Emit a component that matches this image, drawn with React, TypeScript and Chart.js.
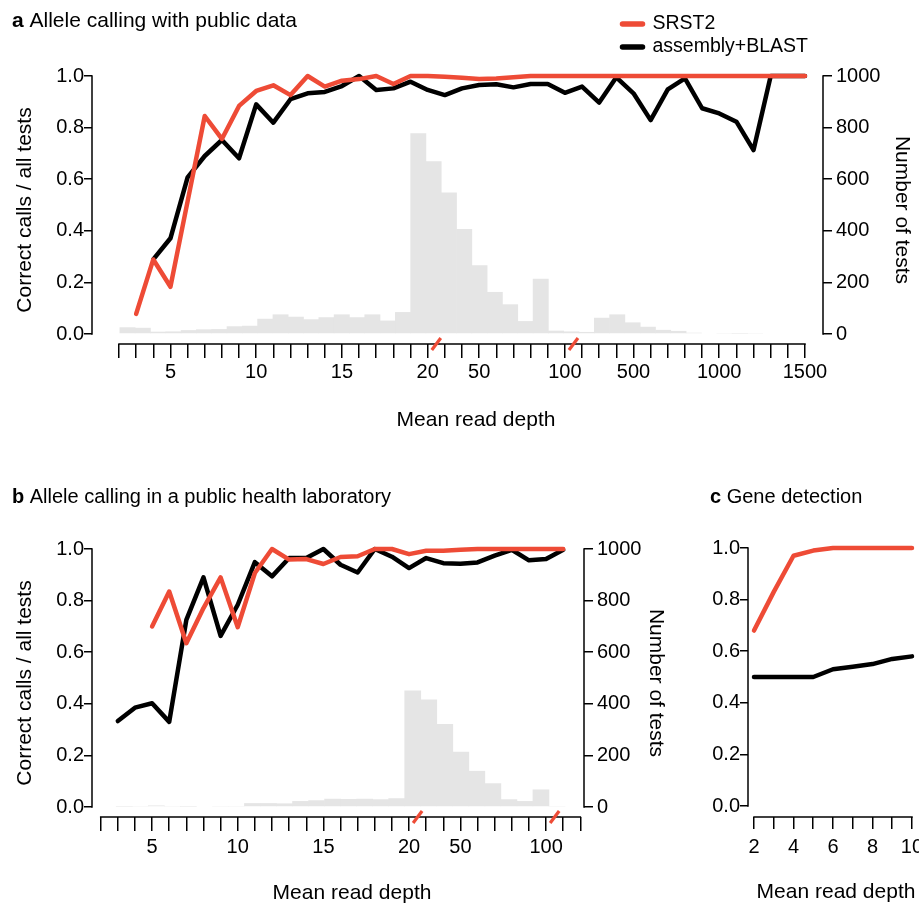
import React, { useEffect, useRef } from "react";
import { Chart, registerables } from "chart.js";

Chart.register(...registerables);

const FONT = "'Liberation Sans', Arial, Helvetica, sans-serif";
const RED = "#EE4B36";
const BLACK = "#000000";
const GREY = "#E5E5E5";

// ---------------- Panel a: Allele calling with public data ----------------
const depthA = [2, 3, 4, 5, 6, 7, 8, 9, 10, 11, 12, 13, 14, 15, 16, 17, 18, 19, 20, 30, 40, 50, 60, 70, 80, 90, 100, 200, 300, 400, 500, 600, 700, 800, 900, 1000, 1100, 1200, 1300, 1400, 1500];
const labelledA = [5, 10, 15, 20, 50, 100, 500, 1000, 1500];
const srst2A = [null, 0.078, 0.289, 0.183, 0.514, 0.845, 0.756, 0.884, 0.942, 0.964, 0.926, 1.0, 0.959, 0.982, 0.988, 1.0, 0.969, 1.0, 1.0, 0.997, 0.993, 0.988, 0.99, 0.995, 1, 1, 1, 1, 1, 1, 1, 1, 1, 1, 1, 1, 1, 1, 1, 1, 1];
const blastA = [null, null, 0.289, 0.371, 0.607, 0.69, 0.752, 0.681, 0.89, 0.819, 0.91, 0.933, 0.938, 0.961, 1.0, 0.946, 0.952, 0.978, 0.946, 0.926, 0.952, 0.965, 0.968, 0.956, 0.969, 0.969, 0.935, 0.959, 0.897, 0.995, 0.933, 0.829, 0.948, 0.991, 0.875, 0.855, 0.823, 0.713, 1.0, 1.0, 1.0];
const testsA = [26, 24, 9, 10, 15, 18, 19, 30, 32, 59, 76, 67, 57, 65, 76, 65, 76, 52, 85, 778, 670, 548, 407, 266, 163, 115, 50, 214, 13, 10, 8, 63, 76, 45, 28, 16, 12, 5, 3, 2, 1, 2, 0, 0];
const breaksA = [18.5, 26.5];

// ---------------- Panel b: Allele calling in a public health laboratory ----------------
const depthB = [2, 3, 4, 5, 6, 7, 8, 9, 10, 11, 12, 13, 14, 15, 16, 17, 18, 19, 20, 30, 40, 50, 60, 70, 80, 90, 100, 200, 300];
const labelledB = [5, 10, 15, 20, 50, 100];
const srst2B = [null, null, null, 0.7, 0.835, 0.635, 0.771, 0.89, 0.697, 0.907, 1.0, 0.959, 0.961, 0.942, 0.969, 0.972, 1.0, 1.0, 0.98, 0.993, 0.993, 0.997, 1.0, 1.0, 1.0, 1.0, 1.0, 1.0, null];
const blastB = [null, 0.333, 0.385, 0.402, 0.33, 0.725, 0.89, 0.663, 0.784, 0.949, 0.894, 0.965, 0.965, 1.0, 0.939, 0.909, 1.0, 0.97, 0.926, 0.965, 0.945, 0.943, 0.948, 0.974, 0.997, 0.956, 0.961, 0.997, null];
const testsB = [3, 1, 2, 6, 2, 1, 3, 2, 2, 15, 15, 14, 23, 26, 32, 31, 32, 30, 34, 452, 417, 322, 214, 140, 92, 30, 23, 68, 2, 0];
const breaksB = [18.5, 26.5];

// ---------------- Panel c: Gene detection ----------------
const depthC = [2, 3, 4, 5, 6, 7, 8, 9, 10];
const labelledC = [2, 4, 6, 8, 10];
const srst2C = [0.68, 0.83, 0.97, 0.99, 1.0, 1.0, 1.0, 1.0, 1.0];
const blastC = [0.5, 0.5, 0.5, 0.5, 0.53, 0.54, 0.55, 0.57, 0.58];

// ---------------- shared tick sets ----------------
const fractionTicks = [0, 0.2, 0.4, 0.6, 0.8, 1.0];
const countTicks = [0, 200, 400, 600, 800, 1000];

const tickFont = { family: FONT, size: 20 };
const axisTitleFont = { family: FONT, size: 21 };

function lineDataset(label: string, color: string, xs: number[], ys: (number | null)[], order: number) {
  return {
    type: "line",
    label,
    borderColor: color,
    backgroundColor: color,
    borderWidth: 4.5,
    pointRadius: 0,
    pointHoverRadius: 0,
    tension: 0,
    borderCapStyle: "round",
    borderJoinStyle: "round",
    spanGaps: false,
    clip: false,
    order,
    xAxisID: "x",
    yAxisID: "y",
    data: ys.map((y, i) => ({ x: xs[i], y })),
  };
}

function histDataset(counts: number[]) {
  return {
    type: "bar",
    label: "Number of tests",
    backgroundColor: GREY,
    borderWidth: 0,
    barPercentage: 1.04,
    categoryPercentage: 1,
    grouped: false,
    order: 3,
    xAxisID: "xh",
    yAxisID: "y2",
    data: counts.map((c, k) => ({ x: k + 0.5, y: c })),
  };
}

function histScale(min: number, max: number, counts: number[]) {
  return {
    type: "linear",
    display: false,
    min,
    max,
    bounds: "data",
    ticks: { display: false, autoSkip: false },
    afterBuildTicks: (s: any) => {
      s.ticks = counts.map((_, k) => ({ value: k }));
    },
  };
}

function xScale(min: number, max: number, tickVals: number[], fmt: (v: number) => string, tickLength: number, pad: number, height: number) {
  return {
    type: "linear",
    position: "bottom",
    min,
    max,
    bounds: "data",
    afterBuildTicks: (s: any) => {
      s.ticks = tickVals.map((v) => ({ value: v }));
    },
    ticks: { autoSkip: false, maxRotation: 0, minRotation: 0, padding: pad, color: BLACK, font: tickFont, callback: (v: number) => fmt(v) },
    grid: { display: true, drawOnChartArea: false, drawTicks: true, tickLength, color: BLACK, lineWidth: 1.5 },
    border: { display: false },
    title: { display: false },
    afterFit: (s: any) => {
      s.height = height;
    },
  };
}

function yScale(position: string, min: number, max: number, tickVals: number[], fmt: (v: number) => string, width: number, tickLength: number, pad: number, title: string | null) {
  return {
    type: "linear",
    position,
    min,
    max,
    bounds: "data",
    afterBuildTicks: (s: any) => {
      s.ticks = tickVals.map((v) => ({ value: v }));
    },
    ticks: { padding: pad, color: BLACK, font: tickFont, callback: (v: number) => fmt(v) },
    grid: { display: true, drawOnChartArea: false, drawTicks: true, tickLength, color: BLACK, lineWidth: 1.5 },
    border: { display: false },
    title: { display: !!title, text: title || "", color: BLACK, font: axisTitleFont, padding: 0 },
    afterFit: (s: any) => {
      s.width = width;
    },
  };
}

// Draws R-style detached axis lines, axis-break marks, x-axis title, panel titles and legend.
const rDecor = {
  id: "rDecor",
  afterDraw(chart: any, _args: any, opts: any) {
    const { ctx, chartArea, scales } = chart;
    ctx.save();
    const seg = (x1: number, y1: number, x2: number, y2: number) => {
      ctx.beginPath();
      ctx.moveTo(x1, y1);
      ctx.lineTo(x2, y2);
      ctx.stroke();
    };
    ctx.strokeStyle = BLACK;
    ctx.lineWidth = 1.5;
    ctx.lineCap = "butt";
    const xs = scales.x;
    const xt = xs.ticks;
    const xb = chartArea.bottom;
    seg(xs.getPixelForValue(xt[0].value) - 0.75, xb, xs.getPixelForValue(xt[xt.length - 1].value) + 0.75, xb);
    for (const id of ["y", "y2"]) {
      const s = scales[id];
      if (!s) continue;
      const t = s.ticks;
      const px = id === "y" ? chartArea.left : chartArea.right;
      seg(px, s.getPixelForValue(t[0].value) + 0.75, px, s.getPixelForValue(t[t.length - 1].value) - 0.75);
    }
    if (opts.breaks) {
      ctx.strokeStyle = RED;
      ctx.lineWidth = 3.2;
      for (const b of opts.breaks) {
        const px = xs.getPixelForValue(b);
        seg(px - 4.5, xb + 6, px + 4.5, xb - 6);
      }
    }
    ctx.fillStyle = BLACK;
    if (opts.xTitle) {
      const { text, x, y } = opts.xTitle;
      ctx.font = `21px ${FONT}`;
      ctx.textAlign = "center";
      ctx.textBaseline = "middle";
      ctx.fillText(text, x, y);
    }
    if (opts.title) {
      const { bold, text, x, y, size } = opts.title;
      ctx.textAlign = "left";
      ctx.textBaseline = "alphabetic";
      ctx.font = `bold ${size}px ${FONT}`;
      ctx.fillText(bold, x, y);
      const w = ctx.measureText(bold).width;
      ctx.font = `${size}px ${FONT}`;
      ctx.fillText(text, x + w, y);
    }
    if (opts.legend) {
      const { x, y, gap, len } = opts.legend;
      const items = chart.data.datasets.filter((d: any) => d.type === "line");
      items.forEach((d: any, i: number) => {
        const cy = y + i * gap;
        ctx.strokeStyle = d.borderColor;
        ctx.lineWidth = 5.5;
        ctx.lineCap = "round";
        seg(x, cy, x + len, cy);
        ctx.fillStyle = BLACK;
        ctx.font = `19.5px ${FONT}`;
        ctx.textAlign = "left";
        ctx.textBaseline = "middle";
        ctx.fillText(d.label, x + len + 10, cy);
      });
    }
    ctx.restore();
  },
};

const fmtFrac = (v: number) => v.toFixed(1);
const fmtCount = (v: number) => String(v);

function baseOptions(padding: any, decor: any, scales: any) {
  return {
    responsive: false,
    animation: false,
    devicePixelRatio: 1,
    events: [],
    layout: { padding },
    plugins: { legend: { display: false }, tooltip: { enabled: false }, title: { display: false }, rDecor: decor },
    scales,
  };
}

function configA() {
  const idx = depthA.map((_, i) => i);
  return {
    type: "line",
    data: {
      datasets: [lineDataset("SRST2", RED, idx, srst2A, 1), lineDataset("assembly+BLAST", BLACK, idx, blastA, 2), histDataset(testsA)],
    },
    options: baseOptions(
      { left: 13, right: 5, top: 76, bottom: 474 },
      {
        breaks: breaksA,
        xTitle: { text: "Mean read depth", x: 476, y: 420 },
        title: { bold: "a", text: " Allele calling with public data", x: 12, y: 27, size: 21 },
        legend: { x: 622.5, y: 24, gap: 23, len: 20 },
      },
      {
        x: xScale(-1.574, 41.05, idx, (v) => (labelledA.includes(depthA[v]) ? String(depthA[v]) : ""), 14, 2, 89),
        xh: histScale(-1.277, 45.4, testsA),
        y: yScale("left", -0.03876, 1, fractionTicks, fmtFrac, 79, 8, 0, "Correct calls / all tests"),
        y2: yScale("right", -38.76, 1000, countTicks, fmtCount, 91, 9, 4, "Number of tests"),
      }
    ),
    plugins: [rDecor],
  };
}

function configB() {
  const idx = depthB.map((_, i) => i);
  return {
    type: "line",
    data: {
      datasets: [lineDataset("SRST2", RED, idx, srst2B, 1), lineDataset("assembly+BLAST", BLACK, idx, blastB, 2), histDataset(testsB)],
    },
    options: baseOptions(
      { left: 13, right: 251, top: 549, bottom: 1 },
      {
        breaks: breaksB,
        xTitle: { text: "Mean read depth", x: 352, y: 893 },
        title: { bold: "b", text: " Allele calling in a public health laboratory", x: 12, y: 503, size: 20 },
      },
      {
        x: xScale(-0.508, 28.214, idx, (v) => (labelledB.includes(depthB[v]) ? String(depthB[v]) : ""), 14, 4, 89),
        xh: histScale(0, 29.674, testsB),
        y: yScale("left", -0.03876, 1, fractionTicks, fmtFrac, 79, 8, 0, "Correct calls / all tests"),
        y2: yScale("right", -38.76, 1000, countTicks, fmtCount, 84, 9, 4, "Number of tests"),
      }
    ),
    plugins: [rDecor],
  };
}

function configC() {
  return {
    type: "line",
    data: {
      datasets: [lineDataset("SRST2", RED, depthC, srst2C, 1), lineDataset("assembly+BLAST", BLACK, depthC, blastC, 2)],
    },
    options: baseOptions(
      { left: 690, right: 16, top: 548, bottom: 2 },
      {
        xTitle: { text: "Mean read depth", x: 836, y: 892 },
        title: { bold: "c", text: " Gene detection", x: 710, y: 503, size: 20 },
      },
      {
        x: xScale(1.696, 10.608, depthC, (v) => (labelledC.includes(v) ? String(v) : ""), 12, 6, 88),
        y: yScale("left", -0.0426, 1, fractionTicks, fmtFrac, 58, 8, 0, null),
      }
    ),
    plugins: [rDecor],
  };
}

function ChartCanvas({ make, width, height }: { make: () => any; width: number; height: number }) {
  const ref = useRef<HTMLCanvasElement>(null);
  useEffect(() => {
    const chart = new Chart(ref.current as HTMLCanvasElement, make());
    return () => chart.destroy();
  }, [make]);
  return <canvas ref={ref} width={width} height={height} style={{ position: "absolute", left: 0, top: 0, width, height }} />;
}

export default function App() {
  return (
    <div style={{ position: "fixed", left: 0, top: 0, width: 919, height: 907, overflow: "hidden", background: "#ffffff" }}>
      <ChartCanvas make={configA} width={919} height={907} />
      <ChartCanvas make={configB} width={919} height={907} />
      <ChartCanvas make={configC} width={940} height={907} />
    </div>
  );
}
